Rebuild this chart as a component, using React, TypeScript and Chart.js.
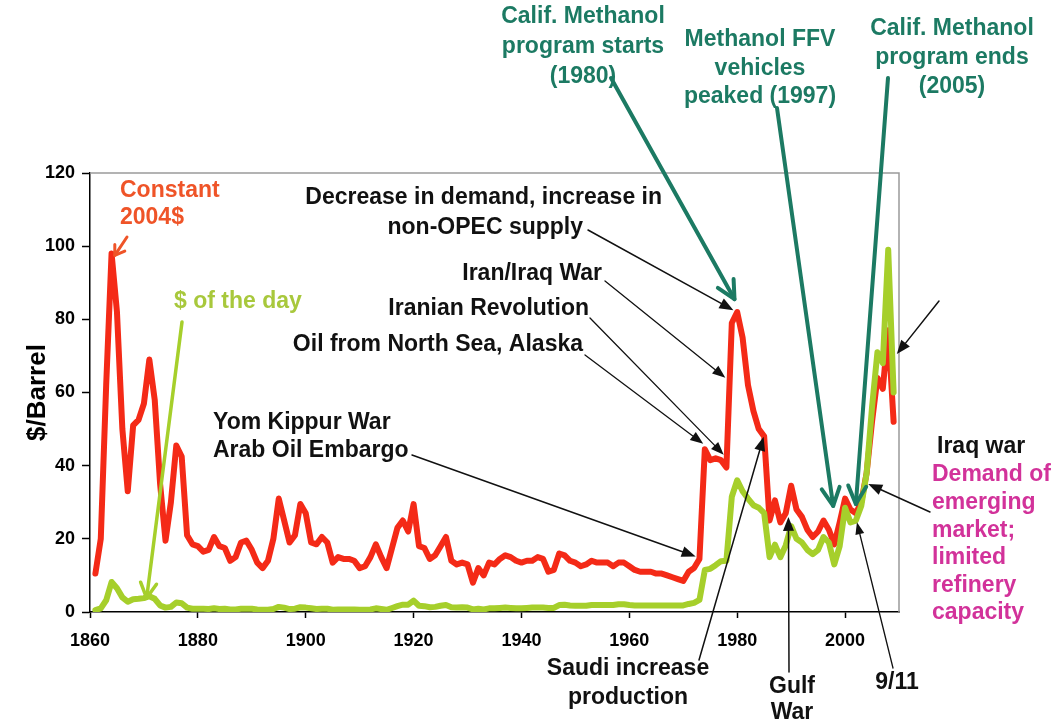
import React, { useEffect, useRef } from 'react';
import { Chart, registerables } from 'chart.js';

Chart.register(...registerables);

// ---------- data ----------
const YEARS = [
  1861, 1862, 1863, 1864, 1865, 1866, 1867, 1868, 1869, 1870,
  1871, 1872, 1873, 1874, 1875, 1876, 1877, 1878, 1879, 1880,
  1881, 1882, 1883, 1884, 1885, 1886, 1887, 1888, 1889, 1890,
  1891, 1892, 1893, 1894, 1895, 1896, 1897, 1898, 1899, 1900,
  1901, 1902, 1903, 1904, 1905, 1906, 1907, 1908, 1909, 1910,
  1911, 1912, 1913, 1914, 1915, 1916, 1917, 1918, 1919, 1920,
  1921, 1922, 1923, 1924, 1925, 1926, 1927, 1928, 1929, 1930,
  1931, 1932, 1933, 1934, 1935, 1936, 1937, 1938, 1939, 1940,
  1941, 1942, 1943, 1944, 1945, 1946, 1947, 1948, 1949, 1950,
  1951, 1952, 1953, 1954, 1955, 1956, 1957, 1958, 1959, 1960,
  1961, 1962, 1963, 1964, 1965, 1966, 1967, 1968, 1969, 1970,
  1971, 1972, 1973, 1974, 1975, 1976, 1977, 1978, 1979, 1980,
  1981, 1982, 1983, 1984, 1985, 1986, 1987, 1988, 1989, 1990,
  1991, 1992, 1993, 1994, 1995, 1996, 1997, 1998, 1999, 2000,
  2001, 2002, 2003, 2004, 2005, 2006, 2007, 2008, 2009,
];

// Constant 2004 $ per barrel
const CONSTANT_2004 = [
  10.5, 20, 62, 98, 82, 50, 33, 51, 52.5, 57,
  69, 58, 35, 19.5, 30, 45.5, 42.5, 21, 18.5, 18,
  16.5, 17, 20.5, 18, 17.5, 14, 15, 19, 19.5, 17,
  13.5, 12, 14, 20, 31, 25, 19, 21, 29.5, 27,
  19, 18.5, 20.5, 19, 13.5, 15, 14.5, 14.5, 14, 12,
  12.5, 15, 18.5, 15, 12, 17.5, 23, 25, 22, 29.5,
  18, 17.5, 14.5, 15.5, 18, 20.5, 14, 13, 13.5, 13,
  8, 12, 10, 13.5, 13, 14.5, 15.5, 15, 14, 13.5,
  14, 14, 15, 14.5, 11, 11.5, 16, 15.5, 14, 13.5,
  12.5, 13, 14, 13.5, 13.5, 13.5, 12.5, 13.5, 13.5, 12.5,
  11.5, 11, 11, 11, 10.5, 10.5, 10, 9.5, 9, 8.5,
  11, 12, 14.5, 44.5, 41.5, 42, 41.5, 39.5, 79, 82,
  75, 62, 55, 50, 48, 25, 30.5, 24.5, 27, 34.5,
  28, 26, 22.5, 20.5, 22, 25, 22.5, 18.5, 24.5, 31,
  28, 27, 30, 38, 52, 64, 61, 77, 52,
];

// $ of the day (nominal) per barrel
const NOMINAL = [
  0.5, 1, 3.2, 8.2, 6.5, 4, 2.8, 3.5, 3.6, 3.8,
  4.3, 3.6, 1.8, 1.2, 1.4, 2.6, 2.4, 1.2, 0.9, 0.9,
  0.9, 0.8, 1, 0.8, 0.9, 0.7, 0.7, 0.9, 0.9, 0.9,
  0.7, 0.6, 0.6, 0.8, 1.4, 1.2, 0.8, 0.9, 1.3, 1.2,
  1, 0.8, 0.9, 0.9, 0.6, 0.7, 0.7, 0.7, 0.7, 0.6,
  0.6, 0.7, 1, 0.8, 0.6, 1.1, 1.6, 2, 2, 3.1,
  1.7, 1.6, 1.3, 1.4, 1.7, 1.9, 1.3, 1.2, 1.3, 1.2,
  0.7, 0.9, 0.7, 1, 1, 1.1, 1.2, 1.1, 1, 1,
  1.1, 1.2, 1.2, 1.2, 1.1, 1.1, 1.9, 2, 1.8, 1.7,
  1.7, 1.7, 1.9, 1.9, 1.9, 1.9, 1.9, 2.1, 2.1, 1.9,
  1.8, 1.8, 1.8, 1.8, 1.8, 1.8, 1.8, 1.8, 1.8, 1.8,
  2.2, 2.5, 3.3, 11.5, 11.8, 12.8, 13.9, 14, 31.5, 36,
  33, 31, 29.2, 28.5, 27, 15, 18.4, 15, 18.2, 23.5,
  20, 19, 17, 15.8, 17, 20.5, 19, 13, 18, 28.5,
  24.5, 25, 29, 38, 56, 71, 68, 99, 60,
];

const X_TICKS = [1860, 1880, 1900, 1920, 1940, 1960, 1980, 2000];
const Y_TICKS = [0, 20, 40, 60, 80, 100, 120];

// ---------- annotation styles ----------
const FONT = "'Liberation Sans', Arial, Helvetica, sans-serif";
const RED = '#f42a17';
const LIME = '#a6cf2b';
const ORANGE = '#ef5428';
const LIME_TEXT = '#a8c83c';
const TEAL = '#1c7a63';
const MAGENTA = '#d2329a';
const BLACK = '#111111';

type Note = { lines: string[]; x: number; y: number; align: CanvasTextAlign; color: string; size: number; lh: number };
const NOTES: Note[] = [
  { lines: ['Constant', '2004$'], x: 120, y: 191, align: 'left', color: ORANGE, size: 23, lh: 27 },
  { lines: ['$ of the day'], x: 174, y: 302, align: 'left', color: LIME_TEXT, size: 23, lh: 27 },
  { lines: ['Decrease in demand, increase in'], x: 662, y: 198, align: 'right', color: BLACK, size: 23, lh: 27 },
  { lines: ['non-OPEC supply'], x: 583, y: 228, align: 'right', color: BLACK, size: 23, lh: 27 },
  { lines: ['Iran/Iraq War'], x: 602, y: 274, align: 'right', color: BLACK, size: 23, lh: 27 },
  { lines: ['Iranian Revolution'], x: 589, y: 309, align: 'right', color: BLACK, size: 23, lh: 27 },
  { lines: ['Oil from North Sea, Alaska'], x: 583, y: 345, align: 'right', color: BLACK, size: 23, lh: 27 },
  { lines: ['Yom Kippur War', 'Arab Oil Embargo'], x: 213, y: 423, align: 'left', color: BLACK, size: 23, lh: 28 },
  { lines: ['Calif. Methanol', 'program starts', '(1980)'], x: 583, y: 17, align: 'center', color: TEAL, size: 23, lh: 30 },
  { lines: ['Methanol FFV', 'vehicles', 'peaked (1997)'], x: 760, y: 40, align: 'center', color: TEAL, size: 23, lh: 28.5 },
  { lines: ['Calif. Methanol', 'program ends', '(2005)'], x: 952, y: 29, align: 'center', color: TEAL, size: 23, lh: 29 },
  { lines: ['Iraq war'], x: 937, y: 447, align: 'left', color: BLACK, size: 23, lh: 27 },
  { lines: ['Demand of', 'emerging', 'market;', 'limited', 'refinery', 'capacity'], x: 932, y: 475, align: 'left', color: MAGENTA, size: 23, lh: 27.6 },
  { lines: ['Saudi increase', 'production'], x: 628, y: 669, align: 'center', color: BLACK, size: 23, lh: 29 },
  { lines: ['Gulf', 'War'], x: 792, y: 687, align: 'center', color: BLACK, size: 23, lh: 26 },
  { lines: ['9/11'], x: 897, y: 683, align: 'center', color: BLACK, size: 23, lh: 26 },
];

type Arrow = { from: [number, number]; toYear: number; toValue: number; color: string; width: number; head: 'filled' | 'open'; len: number; half: number };
const ARROWS: Arrow[] = [
  { from: [127, 237], toYear: 1864.6, toValue: 97.5, color: ORANGE, width: 3, head: 'open', len: 9, half: 6 },
  { from: [182, 322], toYear: 1870.5, toValue: 3.8, color: LIME, width: 3.5, head: 'open', len: 15, half: 8 },
  { from: [588, 230], toYear: 1979.3, toValue: 82.5, color: BLACK, width: 1.5, head: 'filled', len: 14, half: 5.5 },
  { from: [605, 281], toYear: 1977.8, toValue: 64, color: BLACK, width: 1.3, head: 'filled', len: 13, half: 5 },
  { from: [590, 318], toYear: 1977.5, toValue: 43, color: BLACK, width: 1.3, head: 'filled', len: 13, half: 5 },
  { from: [585, 355], toYear: 1973.7, toValue: 46, color: BLACK, width: 1.3, head: 'filled', len: 13, half: 5 },
  { from: [412, 455], toYear: 1972.3, toValue: 15.2, color: BLACK, width: 1.5, head: 'filled', len: 14, half: 5.5 },
  { from: [611, 78], toYear: 1979.5, toValue: 85.5, color: TEAL, width: 4, head: 'open', len: 18, half: 9 },
  { from: [777, 108], toYear: 1997.8, toValue: 29, color: TEAL, width: 4, head: 'open', len: 18, half: 9 },
  { from: [888, 78], toYear: 2002, toValue: 29.5, color: TEAL, width: 4, head: 'open', len: 18, half: 9 },
  { from: [939, 301], toYear: 2009.6, toValue: 70.5, color: BLACK, width: 1.5, head: 'filled', len: 14, half: 5.5 },
  { from: [930, 512], toYear: 2004.3, toValue: 35, color: BLACK, width: 1.5, head: 'filled', len: 14, half: 5.5 },
  { from: [699, 660], toYear: 1984.9, toValue: 47.9, color: BLACK, width: 1.5, head: 'filled', len: 14, half: 5.5 },
  { from: [789, 672], toYear: 1989.5, toValue: 26, color: BLACK, width: 1.5, head: 'filled', len: 14, half: 5.5 },
  { from: [893, 668], toYear: 2002.2, toValue: 24.5, color: BLACK, width: 1.3, head: 'filled', len: 12, half: 4.5 },
];

function drawArrow(ctx: CanvasRenderingContext2D, x1: number, y1: number, x2: number, y2: number, a: Arrow) {
  const ang = Math.atan2(y2 - y1, x2 - x1);
  const c = Math.cos(ang);
  const s = Math.sin(ang);
  ctx.save();
  ctx.strokeStyle = a.color;
  ctx.fillStyle = a.color;
  ctx.lineWidth = a.width;
  ctx.lineCap = 'round';
  ctx.lineJoin = 'round';
  const bx = x2 - a.len * c;
  const by = y2 - a.len * s;
  if (a.head === 'filled') {
    ctx.beginPath();
    ctx.moveTo(x1, y1);
    ctx.lineTo(bx, by);
    ctx.stroke();
    ctx.beginPath();
    ctx.moveTo(x2, y2);
    ctx.lineTo(bx + a.half * s, by - a.half * c);
    ctx.lineTo(bx - a.half * s, by + a.half * c);
    ctx.closePath();
    ctx.fill();
  } else {
    ctx.beginPath();
    ctx.moveTo(x1, y1);
    ctx.lineTo(x2, y2);
    ctx.stroke();
    ctx.beginPath();
    ctx.moveTo(bx + a.half * s, by - a.half * c);
    ctx.lineTo(x2, y2);
    ctx.lineTo(bx - a.half * s, by + a.half * c);
    ctx.stroke();
  }
  ctx.restore();
}

const notesPlugin = {
  id: 'notes',
  beforeDatasetsDraw(chart: any) {
    const { ctx, chartArea: a } = chart;
    ctx.save();
    ctx.strokeStyle = '#9a9a9a';
    ctx.lineWidth = 1.5;
    ctx.beginPath();
    ctx.moveTo(a.left, a.top);
    ctx.lineTo(a.right, a.top);
    ctx.lineTo(a.right, a.bottom);
    ctx.stroke();
    ctx.restore();
  },
  afterDraw(chart: any) {
    const { ctx } = chart;
    const xs = chart.scales.x;
    const ys = chart.scales.y;
    ctx.save();
    for (const n of NOTES) {
      ctx.font = `bold ${n.size}px ${FONT}`;
      ctx.fillStyle = n.color;
      ctx.textAlign = n.align;
      ctx.textBaseline = 'middle';
      n.lines.forEach((t, i) => ctx.fillText(t, n.x, n.y + i * n.lh));
    }
    ctx.restore();
    for (const a of ARROWS) {
      drawArrow(ctx, a.from[0], a.from[1], xs.getPixelForValue(a.toYear), ys.getPixelForValue(a.toValue), a);
    }
  },
};

export default function App() {
  const ref = useRef<HTMLCanvasElement | null>(null);
  useEffect(() => {
    if (!ref.current) return;
    const tickFont = { family: FONT, size: 18, weight: 'bold' as const };
    const chart = new Chart(ref.current, {
      type: 'line',
      data: {
        datasets: [
          {
            label: '$ of the day',
            data: YEARS.map((y, i) => ({ x: y, y: NOMINAL[i] })),
            borderColor: LIME,
            borderWidth: 6,
            pointRadius: 0,
            borderJoinStyle: 'round',
            borderCapStyle: 'round',
            tension: 0,
            order: 1,
          },
          {
            label: 'Constant 2004$',
            data: YEARS.map((y, i) => ({ x: y, y: CONSTANT_2004[i] })),
            borderColor: RED,
            borderWidth: 6,
            pointRadius: 0,
            borderJoinStyle: 'round',
            borderCapStyle: 'round',
            tension: 0,
            order: 2,
          },
        ],
      },
      options: {
        animation: false,
        responsive: false,
        devicePixelRatio: 1,
        layout: { padding: { top: 173, right: 161, left: 0, bottom: 0 } },
        plugins: { legend: { display: false }, tooltip: { enabled: false } },
        scales: {
          x: {
            type: 'linear',
            min: 1860,
            max: 2010,
            afterBuildTicks: (s: any) => {
              s.ticks = X_TICKS.map((v) => ({ value: v }));
            },
            afterFit: (s: any) => {
              s.height = 113;
            },
            grid: { drawOnChartArea: false, color: '#000', tickLength: 6, tickWidth: 1.5 },
            border: { color: '#000', width: 1.5 },
            ticks: {
              font: tickFont,
              color: '#000',
              padding: 12,
              maxRotation: 0,
              autoSkip: false,
              callback: (v: any) => String(v),
            },
          },
          y: {
            type: 'linear',
            min: 0,
            max: 120,
            afterBuildTicks: (s: any) => {
              s.ticks = Y_TICKS.map((v) => ({ value: v }));
            },
            afterFit: (s: any) => {
              s.width = 90;
            },
            grid: { drawOnChartArea: false, color: '#000', tickLength: 8, tickWidth: 1.5 },
            border: { color: '#000', width: 1.5 },
            ticks: {
              font: tickFont,
              color: '#000',
              padding: 7,
              autoSkip: false,
              callback: (v: any) => String(v),
            },
            title: {
              display: true,
              text: '$/Barrel',
              color: '#000',
              font: { family: FONT, size: 26, weight: 'bold' },
              padding: { top: 22, bottom: 0 },
            },
          },
        },
      },
      plugins: [notesPlugin],
    } as any);
    return () => chart.destroy();
  }, []);
  return (
    <div style={{ position: 'absolute', left: 0, top: 0, width: 1060, height: 725, background: '#fff' }}>
      <canvas ref={ref} width={1060} height={725} style={{ display: 'block' }} />
    </div>
  );
}
